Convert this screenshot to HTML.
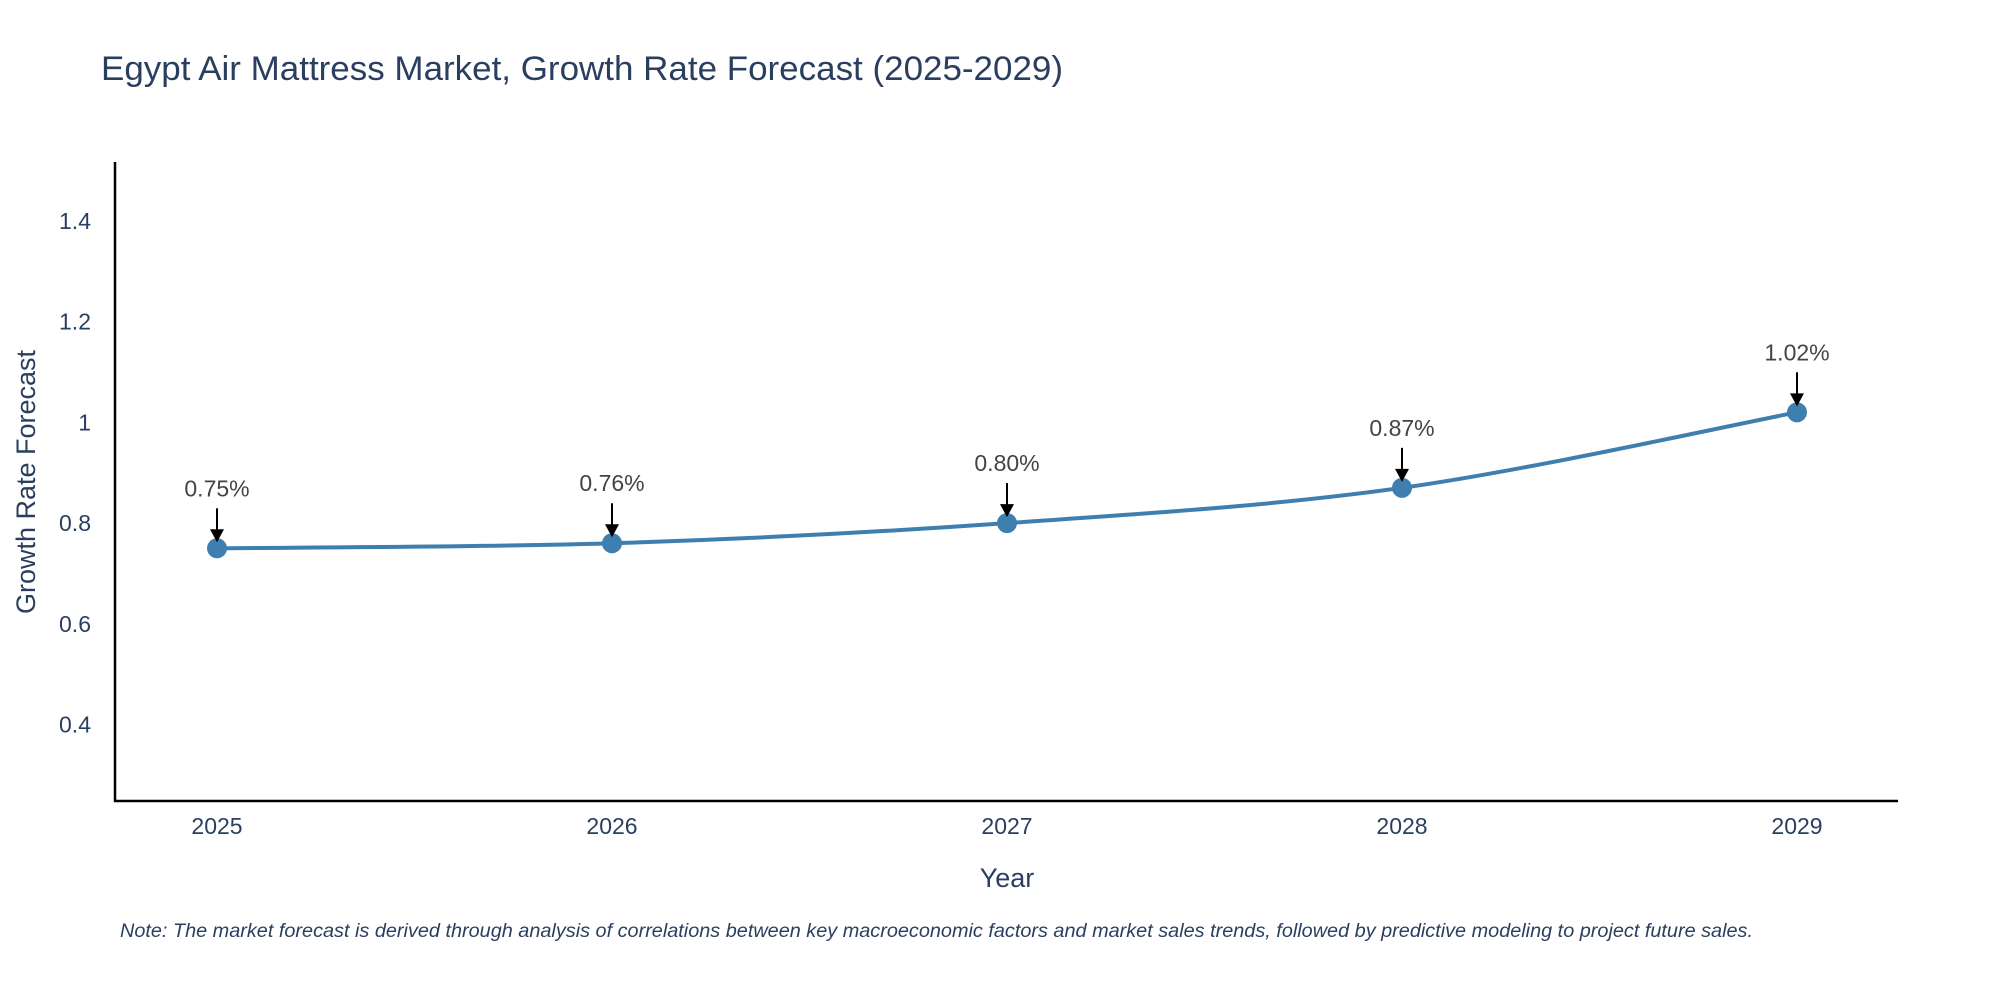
<!DOCTYPE html>
<html><head><meta charset="utf-8"><style>
html,body{margin:0;padding:0;background:#fff;}
svg{display:block;font-family:"Liberation Sans",sans-serif;}
</style></head><body>
<svg id="chart" width="2000" height="1000" viewBox="0 0 2000 1000">
<text x="101" y="80" font-size="34" fill="#2a3f5f" textLength="962" lengthAdjust="spacingAndGlyphs">Egypt Air Mattress Market, Growth Rate Forecast (2025-2029)</text>
<g id="yticks"></g><g id="xticks"></g>
<line x1="115" y1="162" x2="115" y2="802" stroke="#000" stroke-width="2.5"/>
<line x1="114" y1="801" x2="1898" y2="801" stroke="#000" stroke-width="2.5"/>
<text transform="translate(35,482) rotate(-90)" text-anchor="middle" font-size="27" fill="#2a3f5f">Growth Rate Forecast</text>
<text x="1007" y="887" text-anchor="middle" font-size="27" fill="#2a3f5f">Year</text>
<g id="series"></g>
<text x="120" y="937" font-size="19" font-style="italic" fill="#2a3f5f" textLength="1633" lengthAdjust="spacingAndGlyphs">Note: The market forecast is derived through analysis of correlations between key macroeconomic factors and market sales trends, followed by predictive modeling to project future sales.</text>
</svg>
<script>
const years = [2025, 2026, 2027, 2028, 2029];
const values = [0.75, 0.76, 0.80, 0.87, 1.02];
const labels = ["0.75%", "0.76%", "0.80%", "0.87%", "1.02%"];
const yTicks = [0.4, 0.6, 0.8, 1, 1.2, 1.4];
const yTickLabels = ["0.4", "0.6", "0.8", "1", "1.2", "1.4"];
const NS = "http://www.w3.org/2000/svg";
const x = v => 217 + (v - 2025) * (1797 - 217) / 4;
const y = v => 724.5 - (v - 0.4) * (724.5 - 221) / 1.0;
function mk(tag, attrs, parent, txt) {
  const e = document.createElementNS(NS, tag);
  for (const k in attrs) e.setAttribute(k, attrs[k]);
  if (txt !== undefined) e.textContent = txt;
  parent.appendChild(e); return e;
}
const yg = document.getElementById('yticks');
yTicks.forEach((t, i) => {
  const e = mk('text', {x: 91, y: y(t) + 8, 'text-anchor': 'end', 'font-size': 23, fill: '#2a3f5f'}, yg, yTickLabels[i]);
  
  
});
const xg = document.getElementById('xticks');
years.forEach(yr => {
  const e = mk('text', {x: x(yr), y: 834, 'text-anchor': 'middle', 'font-size': 23, fill: '#2a3f5f'}, xg, String(yr));
  
  
});
const sg = document.getElementById('series');
const pts = years.map((yr, i) => [x(yr), y(values[i])]);
let d = `M${pts[0][0]},${pts[0][1]}`;
for (let i = 0; i < pts.length - 1; i++) {
  const p0 = pts[Math.max(0, i - 1)], p1 = pts[i], p2 = pts[i + 1], p3 = pts[Math.min(pts.length - 1, i + 2)];
  const c1 = [p1[0] + (p2[0] - p0[0]) / 6, p1[1] + (p2[1] - p0[1]) / 6];
  const c2 = [p2[0] - (p3[0] - p1[0]) / 6, p2[1] - (p3[1] - p1[1]) / 6];
  d += ` C${c1[0]},${c1[1]} ${c2[0]},${c2[1]} ${p2[0]},${p2[1]}`;
}
const line = mk('path', {d: d, fill: 'none', stroke: '#3f7fb0', 'stroke-width': 4}, sg);


pts.forEach((p, i) => {
  const c = mk('circle', {cx: p[0], cy: p[1], r: 10, fill: '#3f7fb0'}, sg);
  
  
  const a = mk('line', {x1: p[0], y1: p[1] - 40, x2: p[0], y2: p[1] - 18, stroke: '#000', 'stroke-width': 2}, sg);
  
  
  const h = mk('polygon', {points: `${p[0]-7},${p[1]-19} ${p[0]+7},${p[1]-19} ${p[0]},${p[1]-6}`, fill: '#000'}, sg);
  
  
  const t = mk('text', {x: p[0], y: p[1] - 52, 'text-anchor': 'middle', 'font-size': 23, fill: '#444'}, sg, labels[i]);
  
  
});
</script>
</body></html>
